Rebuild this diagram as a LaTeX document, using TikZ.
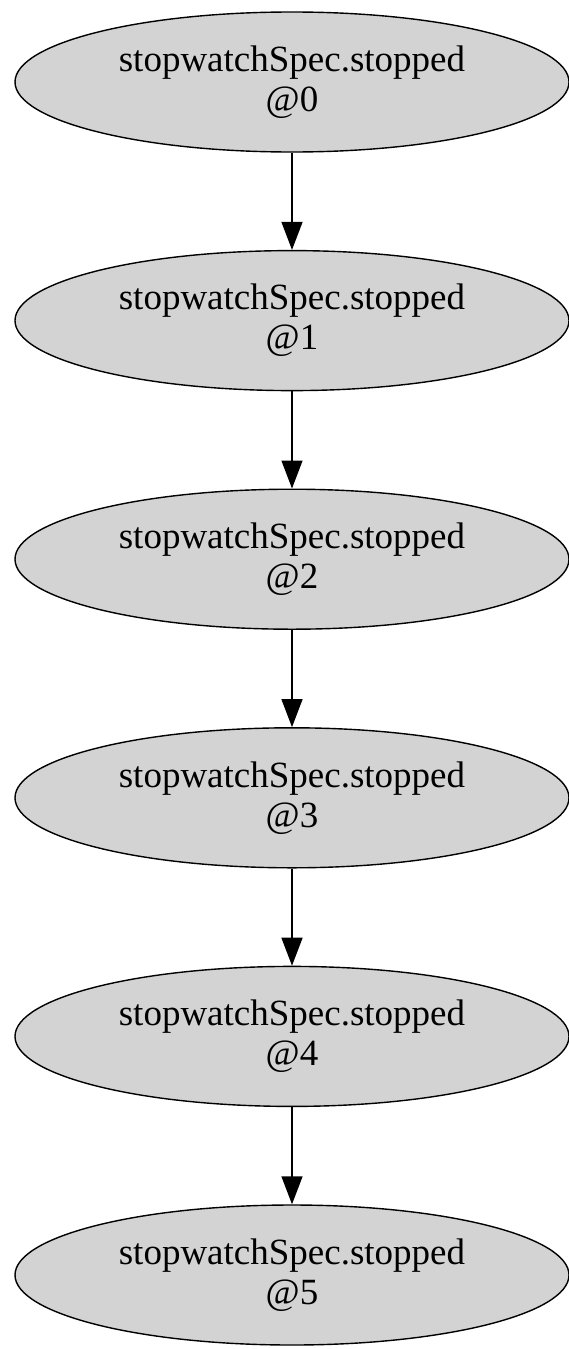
\documentclass[tikz,border=0pt]{standalone}
\usepackage{fontspec}
\setmainfont{Liberation Serif}
\usetikzlibrary{arrows.meta}
\usetikzlibrary{shapes.geometric}
\usetikzlibrary{positioning}
\definecolor{stategray}{HTML}{D3D3D3}
\tikzstyle{state}=[ellipse,draw=black,fill=stategray,line width=1.4pt,minimum width=554pt,minimum height=140pt,inner sep=0pt,align=center,font=\fontsize{37}{40}\selectfont]
\tikzstyle{edge} = [draw,line width=1.4pt,-{Triangle[length=28pt,width=21pt]}]

\begin{document}
\begin{tikzpicture}[x=1pt,y=1pt]
    \useasboundingbox (0,0) rectangle (569,-1349);

    % First we draw the states
    \foreach \i in {0,...,5}
        \node[state] (s\i) at (292,-82-238.6*\i) {stopwatchSpec.stopped\\@\i};

    % Connect states with edges
    \foreach \source/ \dest in {s0/s1, s1/s2, s2/s3, s3/s4, s4/s5}
        \path[edge] (\source) -- (\dest);

\end{tikzpicture}
\end{document}
